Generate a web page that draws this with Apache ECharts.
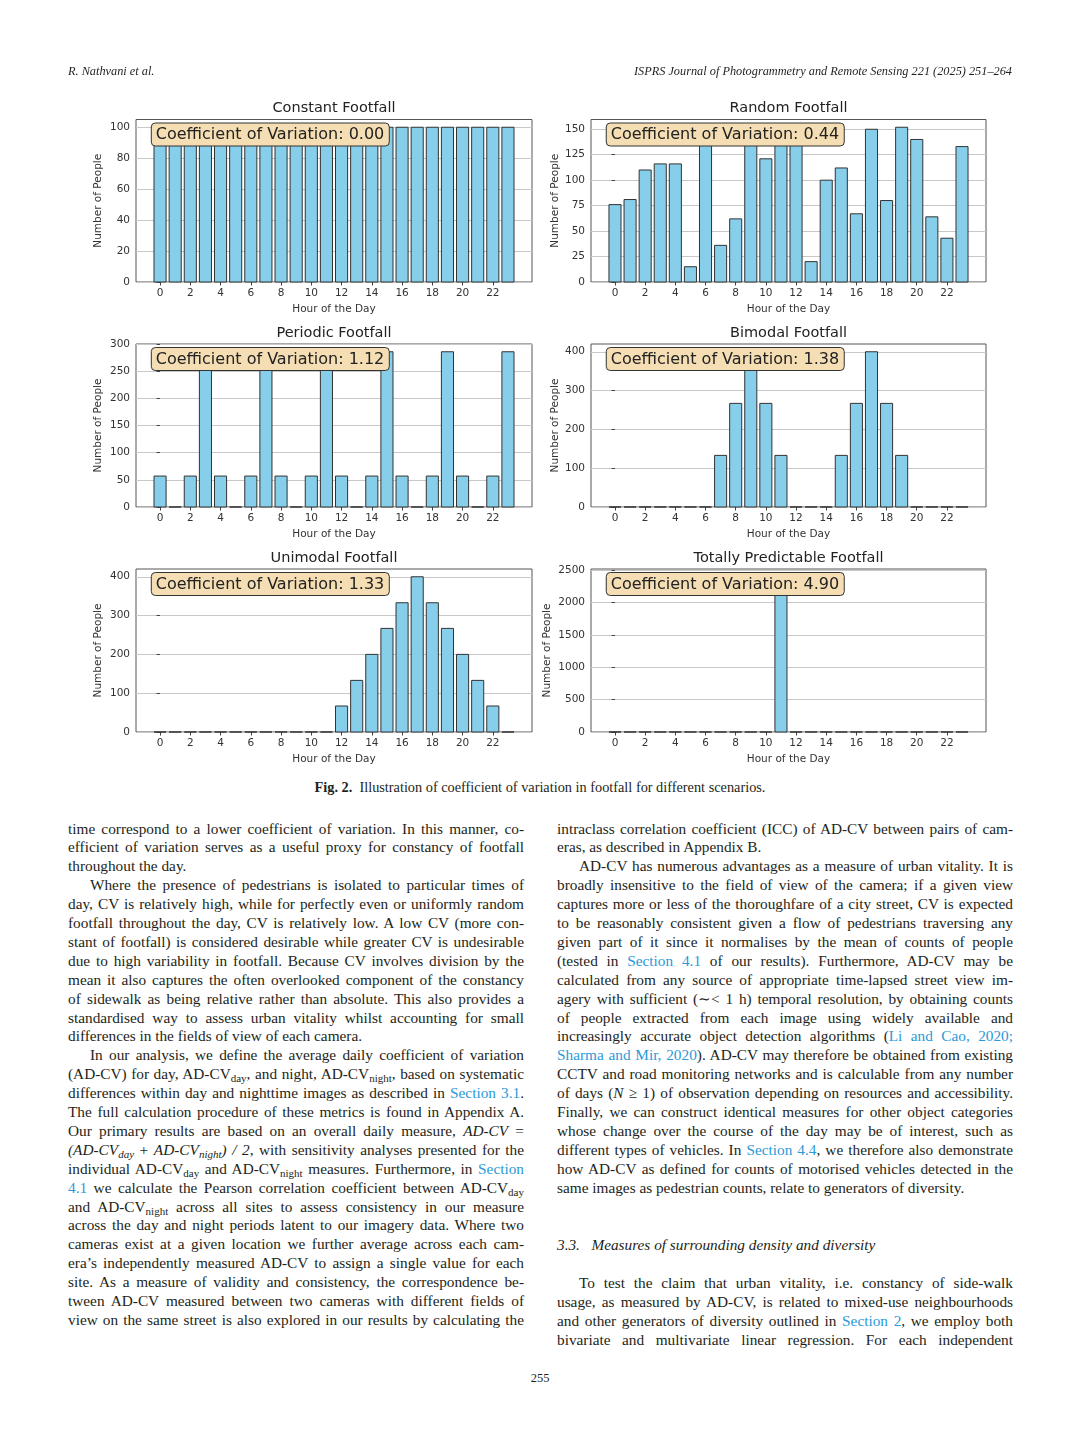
<!DOCTYPE html>
<html>
<head>
<meta charset="utf-8">
<script src="https://cdn.jsdelivr.net/npm/echarts@6/dist/echarts.min.js"></script>
<style>
  html, body { margin:0; padding:0; background:#fff; }
  body { width:1080px; height:1439px; position:relative; overflow:hidden; }
  #chart { position:absolute; left:0; top:0; width:1080px; height:775px; }
  .ln { position:absolute; font-family:"Liberation Serif","Times New Roman",serif; font-size:15.3px; color:#231f20;
        line-height:19px; height:19px; text-align:justify; text-align-last:justify; white-space:normal; }
  .ln.last { text-align:left; text-align-last:left; }
  .ln sub { font-size:11px; vertical-align:-3px; line-height:0; }
  .ln a { color:#2a9ad8; text-decoration:none; }
  .hdr { position:absolute; font-family:"Liberation Serif",serif; font-style:italic; font-size:12.3px; color:#231f20; top:64px; }
  #cap { position:absolute; left:0; width:1080px; top:779px; text-align:center; font-family:"Liberation Serif",serif; font-size:14.3px; color:#231f20; }
  #pg { position:absolute; left:0; width:1080px; top:1371px; text-align:center; font-family:"Liberation Serif",serif; font-size:12.5px; color:#231f20; }
</style>
</head>
<body>
<div id="chart"></div>
<div class="hdr" style="left:68px;">R. Nathvani et al.</div>
<div class="hdr" style="right:68px;">ISPRS Journal of Photogrammetry and Remote Sensing 221 (2025) 251–264</div>
<div id="cap"><b>Fig. 2.</b>&nbsp; Illustration of coefficient of variation in footfall for different scenarios.</div>
<div id="pg">255</div>
<div id="text"></div>
<script>
// ---------------- DATA ----------------
const hours = [0,1,2,3,4,5,6,7,8,9,10,11,12,13,14,15,16,17,18,19,20,21,22,23];
const constantCounts   = [100,100,100,100,100,100,100,100,100,100,100,100,100,100,100,100,100,100,100,100,100,100,100,100];
const randomCounts     = [76,81,110,116,116,15,142,36,62,138,121,145,140,20,100,112,67,150,80,152,140,64,43,133];
const periodicCounts   = [57,0,57,286,57,0,57,286,57,0,57,286,57,0,57,286,57,0,57,286,57,0,57,286];
const bimodalCounts    = [0,0,0,0,0,0,0,133,267,400,267,133,0,0,0,133,267,400,267,133,0,0,0,0];
const unimodalCounts   = [0,0,0,0,0,0,0,0,0,0,0,0,67,133,200,267,333,400,333,267,200,133,67,0];
const predictableCounts= [0,0,0,0,0,0,0,0,0,0,0,2400,0,0,0,0,0,0,0,0,0,0,0,0];
const panelTitles = ['Constant Footfall','Random Footfall','Periodic Footfall','Bimodal Footfall','Unimodal Footfall','Totally Predictable Footfall'];
const cvValues = ['0.00','0.44','1.12','1.38','1.33','4.90'];
const xTickLabels = [0,2,4,6,8,10,12,14,16,18,20,22];
const yTicksConstant   = [0,20,40,60,80,100];
const yTicksRandom     = [0,25,50,75,100,125,150];
const yTicksPeriodic   = [0,50,100,150,200,250,300];
const yTicksBimodal    = [0,100,200,300,400];
const yTicksUnimodal   = [0,100,200,300,400];
const yTicksPredictable= [0,500,1000,1500,2000,2500];
const xAxisName = 'Hour of the Day';
const yAxisName = 'Number of People';

const seriesData = [constantCounts, randomCounts, periodicCounts, bimodalCounts, unimodalCounts, predictableCounts];
const yTicks = [yTicksConstant, yTicksRandom, yTicksPeriodic, yTicksBimodal, yTicksUnimodal, yTicksPredictable];

// ---------------- LAYOUT ----------------
const grids = [
  {left:136, top:119.5, width:396, height:162.5},
  {left:591, top:119.5, width:395, height:162.5},
  {left:136, top:344,   width:396, height:163},
  {left:591, top:344,   width:395, height:163},
  {left:136, top:569,   width:396, height:163},
  {left:591, top:569,   width:395, height:163}
];
const yNameGaps = [32, 27, 32, 27, 32, 38];
const FONT = 'DejaVu Sans';
const TXT = '#333';

const option = { animation:false, backgroundColor:'#fff', grid:[], xAxis:[], yAxis:[], series:[], title:[] };
grids.forEach((g, i) => {
  option.grid.push({ left:g.left, top:g.top, width:g.width, height:g.height, show:true, borderColor:'#555', borderWidth:1, backgroundColor:'transparent', containLabel:false });
  option.xAxis.push({
    type:'value', gridIndex:i, min:-1.59, max:24.59,
    name:xAxisName, nameLocation:'middle', nameGap:21.5,
    nameTextStyle:{ fontFamily:FONT, fontSize:10.5, color:TXT },
    axisLine:{ show:false },
    axisTick:{ show:true, length:3.5, customValues:xTickLabels, lineStyle:{ color:'#444' } },
    axisLabel:{ customValues:xTickLabels, fontFamily:FONT, fontSize:10.5, color:TXT, margin:6, formatter:(v)=>String(v) },
    splitLine:{ show:false }
  });
  option.yAxis.push({
    type:'value', gridIndex:i, min:0, max:(v)=>v.max*1.05,
    name:yAxisName, nameLocation:'middle', nameGap:yNameGaps[i],
    nameTextStyle:{ fontFamily:FONT, fontSize:10.5, color:TXT },
    axisLine:{ show:false },
    axisTick:{ show:true, length:3.5, customValues:yTicks[i], lineStyle:{ color:'#444' } },
    axisLabel:{ customValues:yTicks[i], fontFamily:FONT, fontSize:10.5, color:TXT, margin:6, formatter:(v)=>String(v) },
    splitLine:{ show:true, lineStyle:{ color:'#c8c8c8', width:1 } }
  });
  option.series.push({
    type:'custom', xAxisIndex:i, yAxisIndex:i,
    data: hours.map((h, k) => [h, seriesData[i][k]]),
    encode:{ x:0, y:1 },
    renderItem:(params, api) => {
      const x = api.value(0), y = api.value(1);
      const p0 = api.coord([x - 0.4, 0]);
      const p1 = api.coord([x + 0.4, y]);
      return { type:'rect', shape:{ x:p0[0], y:p1[1], width:p1[0]-p0[0], height:p0[1]-p1[1] },
               style:{ fill:'#87CEEB', stroke:'#333', lineWidth:1 } };
    },
    z:2
  });
  option.title.push({
    text:panelTitles[i], left:g.left + g.width/2, top:g.top - 19.5, textAlign:'center', padding:0,
    textStyle:{ fontFamily:FONT, fontSize:14.5, fontWeight:'normal', color:'#222', lineHeight:17 }
  });
  option.title.push({
    text:'Coefficient of Variation: ' + cvValues[i], left:g.left + 0.05*g.width - 5, top:g.top + 3,
    padding:[3,5,2,5], backgroundColor:'#F5DEB3', borderColor:'#333', borderWidth:1, borderRadius:4, z:10,
    textStyle:{ fontFamily:FONT, fontSize:16, fontWeight:'normal', color:'#222', lineHeight:19 }
  });
});
const chart = echarts.init(document.getElementById('chart'), null, { renderer:'canvas' });
chart.setOption(option);

// ---------------- BODY TEXT ----------------
const leftLines = [
  ['time correspond to a lower coefficient of variation. In this manner, co-',0,0],
  ['efficient of variation serves as a useful proxy for constancy of footfall',0,0],
  ['throughout the day.',0,1],
  ['Where the presence of pedestrians is isolated to particular times of',1,0],
  ['day, CV is relatively high, while for perfectly even or uniformly random',0,0],
  ['footfall throughout the day, CV is relatively low. A low CV (more con-',0,0],
  ['stant of footfall) is considered desirable while greater CV is undesirable',0,0],
  ['due to high variability in footfall. Because CV involves division by the',0,0],
  ['mean it also captures the often overlooked component of the constancy',0,0],
  ['of sidewalk as being relative rather than absolute. This also provides a',0,0],
  ['standardised way to assess urban vitality whilst accounting for small',0,0],
  ['differences in the fields of view of each camera.',0,1],
  ['In our analysis, we define the average daily coefficient of variation',1,0],
  ['(AD-CV) for day, AD-CV<sub>day</sub>, and night, AD-CV<sub>night</sub>, based on systematic',0,0],
  ['differences within day and nighttime images as described in <a>Section 3.1</a>.',0,0],
  ['The full calculation procedure of these metrics is found in Appendix A.',0,0],
  ['Our primary results are based on an overall daily measure, <i>AD-CV</i> =',0,0],
  ['<i>(AD-CV<sub>day</sub></i> + <i>AD-CV<sub>night</sub>) / 2</i>, with sensitivity analyses presented for the',0,0],
  ['individual AD-CV<sub>day</sub> and AD-CV<sub>night</sub> measures. Furthermore, in <a>Section</a>',0,0],
  ['<a>4.1</a> we calculate the Pearson correlation coefficient between AD-CV<sub>day</sub>',0,0],
  ['and AD-CV<sub>night</sub> across all sites to assess consistency in our measure',0,0],
  ['across the day and night periods latent to our imagery data. Where two',0,0],
  ['cameras exist at a given location we further average across each cam-',0,0],
  ['era’s independently measured AD-CV to assign a single value for each',0,0],
  ['site. As a measure of validity and consistency, the correspondence be-',0,0],
  ['tween AD-CV measured between two cameras with different fields of',0,0],
  ['view on the same street is also explored in our results by calculating the',0,0]
];
const rightLines = [
  ['intraclass correlation coefficient (ICC) of AD-CV between pairs of cam-',0,0],
  ['eras, as described in Appendix B.',0,1],
  ['AD-CV has numerous advantages as a measure of urban vitality. It is',1,0],
  ['broadly insensitive to the field of view of the camera; if a given view',0,0],
  ['captures more or less of the thoroughfare of a city street, CV is expected',0,0],
  ['to be reasonably consistent given a flow of pedestrians traversing any',0,0],
  ['given part of it since it normalises by the mean of counts of people',0,0],
  ['(tested in <a>Section 4.1</a> of our results). Furthermore, AD-CV may be',0,0],
  ['calculated from any source of appropriate time-lapsed street view im-',0,0],
  ['agery with sufficient (∼&lt; 1 h) temporal resolution, by obtaining counts',0,0],
  ['of people extracted from each image using widely available and',0,0],
  ['increasingly accurate object detection algorithms (<a>Li and Cao, 2020;</a>',0,0],
  ['<a>Sharma and Mir, 2020</a>). AD-CV may therefore be obtained from existing',0,0],
  ['CCTV and road monitoring networks and is calculable from any number',0,0],
  ['of days (<i>N</i> ≥ 1) of observation depending on resources and accessibility.',0,0],
  ['Finally, we can construct identical measures for other object categories',0,0],
  ['whose change over the course of the day may be of interest, such as',0,0],
  ['different types of vehicles. In <a>Section 4.4</a>, we therefore also demonstrate',0,0],
  ['how AD-CV as defined for counts of motorised vehicles detected in the',0,0],
  ['same images as pedestrian counts, relate to generators of diversity.',0,1]
];
const rightLines2 = [
  ['To test the claim that urban vitality, i.e. constancy of side-walk',1,0],
  ['usage, as measured by AD-CV, is related to mixed-use neighbourhoods',0,0],
  ['and other generators of diversity outlined in <a>Section 2</a>, we employ both',0,0],
  ['bivariate and multivariate linear regression. For each independent',0,0]
];
const heading = '<i>3.3.&nbsp;&nbsp; Measures of surrounding density and diversity</i>';

const host = document.getElementById('text');
const LH = 18.9, COLW = 456, INDENT = 22;
function addLine(html, x, yc, indent, last) {
  const d = document.createElement('div');
  d.className = 'ln' + (last ? ' last' : '');
  d.innerHTML = html;
  d.style.left = (x + (indent ? INDENT : 0)) + 'px';
  d.style.width = (COLW - (indent ? INDENT : 0)) + 'px';
  d.style.top = (yc - 10.5) + 'px';
  host.appendChild(d);
  let ls = 0;
  while (d.scrollHeight > 24 && ls > -1.5) { ls -= 0.05; d.style.letterSpacing = ls + 'px'; }
}
leftLines.forEach((l, i) => addLine(l[0], 68, 829 + LH*i, l[1], l[2]));
rightLines.forEach((l, i) => addLine(l[0], 557, 829 + LH*i, l[1], l[2]));
addLine(heading, 557, 1245.5, 0, 1);
rightLines2.forEach((l, i) => addLine(l[0], 557, 1283.3 + LH*i, l[1], l[2]));
</script>
</body>
</html>
